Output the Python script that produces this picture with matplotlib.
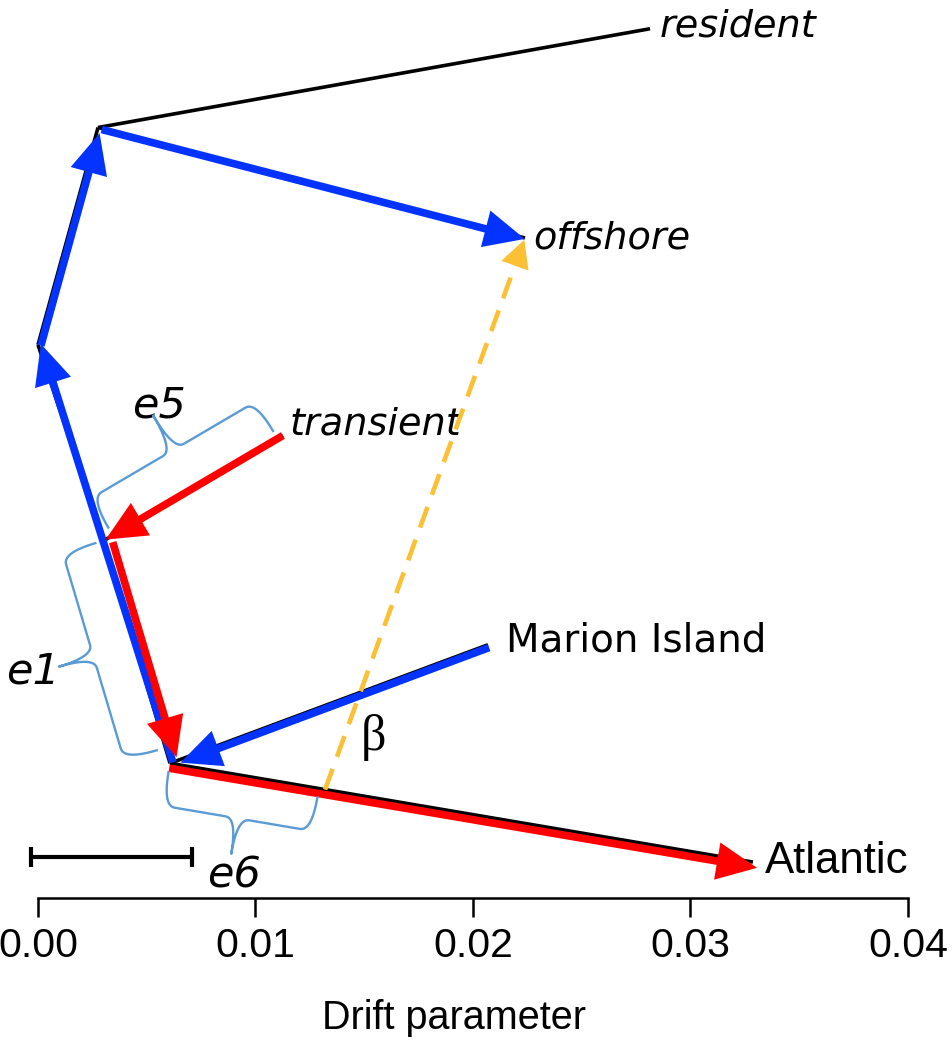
import numpy as np
import matplotlib
matplotlib.use("Agg")
import matplotlib.pyplot as plt
from matplotlib.patches import FancyArrowPatch

# tree nodes: drift parameter (x) and vertical position (y, 0-1)
node_names = ["root", "n1", "n2", "n3", "resident", "offshore",
              "transient", "Marion Island", "Atlantic"]
node_drift = [0.00607, 0.00303, 0.0, 0.00276, 0.02814, 0.02239,
              0.01126, 0.02069, 0.03287]
node_y = [0.150, 0.398, 0.616, 0.858, 0.968, 0.735, 0.515, 0.282, 0.040]

tree_edges = [("root", "n1"), ("n1", "n2"), ("n2", "n3"), ("n3", "resident"),
              ("n3", "offshore"), ("n1", "transient"),
              ("root", "Marion Island"), ("root", "Atlantic")]

# migration edge: leaves the root->Atlantic branch part way down, points to offshore
mig_edge = ("root", "Atlantic")
mig_frac = 0.266
mig_target = "offshore"

# highlighted paths (from, to)
blue_path = [("root", "n2"), ("n2", "n3"), ("n3", "offshore"), ("Marion Island", "root")]
red_path = [("transient", "n1"), ("n1", "root"), ("root", "Atlantic")]

# scale bar (drift units)
scale_start = -0.0003
scale_len = 0.00738
scale_y = 0.046

xticks = [0.00, 0.01, 0.02, 0.03, 0.04]

BLUE = "#0433FF"
RED = "#FF0000"
GOLD = "#FBC034"
BRACE = "#5B9BD5"

pos = {n: (x, y) for n, x, y in zip(node_names, node_drift, node_y)}

fig = plt.figure(figsize=(9.53, 10.41), dpi=100)
ax = fig.add_axes([0, 143 / 1041, 1, 898 / 1041])
ax.set_xlim(-38 / 21750, 915 / 21750)
ax.set_ylim(0, 1)


def to_px(p):
    return ax.transData.transform(p)


def to_data(p):
    return ax.transData.inverted().transform(p)


def shifted(a, b, offset=0, cut_a=0, cut_b=0):
    # move a segment sideways (pixels, + = left of direction) and trim its ends
    pa, pb = to_px(a), to_px(b)
    u = (pb - pa) / np.hypot(*(pb - pa))
    n = np.array([-u[1], u[0]])
    return to_data(pa + n * offset + u * cut_a), to_data(pb + n * offset - u * cut_b)


def arrow(a, b, color, lw=5.5, hl=0.9, hw=0.42, scale=22, z=4):
    ax.add_patch(FancyArrowPatch(a, b, arrowstyle=f"-|>,head_length={hl},head_width={hw}",
                                 mutation_scale=scale, lw=lw, color=color,
                                 shrinkA=0, shrinkB=0, zorder=z,
                                 joinstyle="miter", capstyle="butt"))


def qbez(p0, c, p1, k=14):
    t = np.linspace(0, 1, k)[:, None]
    return (1 - t) ** 2 * p0 + 2 * (1 - t) * t * c + t ** 2 * p1


def brace(a, b, t0, t1, side, base=9, depth=34, tip=36, r=12):
    # curly brace drawn in pixel space next to the segment a-b
    pa, pb = to_px(a), to_px(b)
    d = pb - pa
    L = np.hypot(*d)
    u = d / L
    n = side * np.array([-u[1], u[0]])
    s0, s1 = t0 * L, t1 * L
    m = (s0 + s1) / 2
    v1, v2 = base + depth, base + depth + tip
    P = lambda s, v: np.array([s, v])
    loc = np.vstack([qbez(P(s0, base), P(s0, v1), P(s0 + r, v1)),
                     qbez(P(m - r, v1), P(m, v1), P(m, v2)),
                     qbez(P(m, v2), P(m, v1), P(m + r, v1)),
                     qbez(P(s1 - r, v1), P(s1, v1), P(s1, base))])
    pts = pa + loc[:, :1] * u + loc[:, 1:] * n
    dat = to_data(pts)
    ax.plot(dat[:, 0], dat[:, 1], color=BRACE, lw=1.7, zorder=6,
            solid_joinstyle="round")
    return pa + u * m + n * v2, n


# black tree
for a, b in tree_edges:
    ax.plot([pos[a][0], pos[b][0]], [pos[a][1], pos[b][1]], color="black",
            lw=2.6, solid_capstyle="butt", zorder=2)

# blue path (pixel offsets / trims so the tree stays visible)
blue_fx = {("root", "n2"): (-3, 0, 0), ("n2", "n3"): (-3, 0, 5),
           ("n3", "offshore"): (-1, 4, 0), ("Marion Island", "root"): (3, 0, 10)}
for a, b in blue_path:
    off, ca, cb = blue_fx[(a, b)]
    pa, pb = shifted(pos[a], pos[b], off, ca, cb)
    arrow(pa, pb, BLUE)

red_fx = {("transient", "n1"): (0, 0, 2), ("n1", "root"): (8, 4, 4),
          ("root", "Atlantic"): (-5, 0, -5)}
for a, b in red_path:
    off, ca, cb = red_fx[(a, b)]
    pa, pb = shifted(pos[a], pos[b], off, ca, cb)
    arrow(pa, pb, RED, z=5)

# migration edge (dashed line + solid head)
src = np.array(pos[mig_edge[0]]) + mig_frac * (np.array(pos[mig_edge[1]]) - np.array(pos[mig_edge[0]]))
dst = np.array(pos[mig_target])
pa, pb = shifted(src, dst, 0, 0, 18)
ax.plot([pa[0], pb[0]], [pa[1], pb[1]], color=GOLD, lw=3.3, ls=(0, (4.8, 2.8)),
        dash_capstyle="butt", zorder=7)
s_px, d_px = to_px(src), to_px(dst)
u_m = (d_px - s_px) / np.hypot(*(d_px - s_px))
arrow(to_data(d_px - u_m * 26), to_data(d_px - u_m * 2), GOLD,
      lw=2.4, hl=0.8, hw=0.42, scale=20, z=7)
ax.annotate("\u03b2", src, xytext=(48, 52), textcoords="offset pixels",
            fontsize=36, family="Liberation Serif", ha="center", va="center")

# braces marking e5, e1, e6 (label placed beyond the brace tip)
brace_labels = [("e5", ("n1", "transient"), 0.05, 0.97, 1, 40, 12, (12, 0)),
                ("e1", ("n1", "root"), 0.0, 0.93, -1, 36, 27, (0, 3)),
                ("e6", ("root", None), 0.0, 0.96, -1, 36, 22, (6, 0))]
for lab, (a, b), t0, t1, side, tl, gap, shift in brace_labels:
    end = pos[b] if b else tuple(src)
    tip, n = brace(pos[a], end, t0, t1, side, tip=tl)
    ax.text(*to_data(tip + n * gap + np.array(shift)), lab, fontsize=31,
            style="italic", ha="center", va="center")

# leaf labels
leaf_fmt = {"resident": ((10, -8), "italic", "DejaVu Sans", 27.5),
            "offshore": ((8, -11), "italic", "DejaVu Sans", 27.5),
            "transient": ((7, 1), "italic", "DejaVu Sans", 27.5),
            "Marion Island": ((18, -7), "normal", "DejaVu Sans", 28),
            "Atlantic": ((12, -11), "normal", "Liberation Sans", 31.5)}
for name, (off, st, fam, fs) in leaf_fmt.items():
    ax.annotate(name, pos[name], xytext=off, textcoords="offset pixels",
                fontsize=fs, style=st, family=fam, ha="left", va="baseline")

# scale bar
ax.plot([scale_start, scale_start + scale_len], [scale_y, scale_y], color="black",
        lw=3, marker="|", ms=15, mew=3, solid_capstyle="butt")

# axis
for s in ["left", "right", "top"]:
    ax.spines[s].set_visible(False)
ax.spines["bottom"].set_bounds(xticks[0], xticks[-1])
ax.spines["bottom"].set_linewidth(1.8)
ax.set_yticks([])
ax.set_xticks(xticks)
ax.set_xticklabels([f"{t:.2f}" for t in xticks], fontsize=29.5, family="Liberation Sans")
ax.tick_params(axis="x", length=14, width=1.8, pad=7)
ax.set_xlabel("Drift parameter", fontsize=28.5, family="Liberation Sans")
ax.xaxis.set_label_coords(0.476, -0.113)

fig.savefig("out.png", dpi=100)
